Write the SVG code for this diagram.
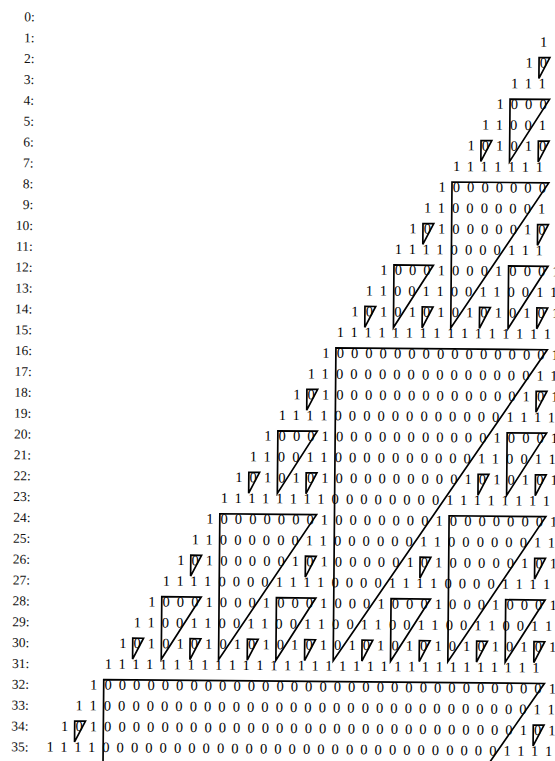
<svg xmlns="http://www.w3.org/2000/svg" width="555" height="761" viewBox="0 0 555 761">
<style>
.lbl{font-family:"Liberation Serif",serif;font-size:13.5px;text-anchor:end;fill:#111}
.row{font-family:"Liberation Serif",serif;font-size:14.5px;letter-spacing:7.08px;fill:#000}
.tri path{fill:none;stroke:#000;stroke-width:1.7;vector-effect:non-scaling-stroke}
</style>
<rect width="555" height="761" fill="#fff"/>
<g transform="rotate(0.5)">
<g id="row-0"><text class="lbl" x="35" y="21.1">0:</text></g>
<g id="row-1"><text class="lbl" x="35" y="41.96">1:</text><text class="row" x="540.37" y="41.96">1</text></g>
<g id="row-2"><text class="lbl" x="35" y="62.82">2:</text><text class="row" x="526.04" y="62.82">10</text></g>
<g id="row-3"><text class="lbl" x="35" y="83.68">3:</text><text class="row" x="511.71" y="83.68">111</text></g>
<g id="row-4"><text class="lbl" x="35" y="104.54">4:</text><text class="row" x="497.38" y="104.54">1000</text></g>
<g id="row-5"><text class="lbl" x="35" y="125.4">5:</text><text class="row" x="483.05" y="125.4">11001</text></g>
<g id="row-6"><text class="lbl" x="35" y="146.26">6:</text><text class="row" x="468.72" y="146.26">101010</text></g>
<g id="row-7"><text class="lbl" x="35" y="167.12">7:</text><text class="row" x="454.39" y="167.12">1111111</text></g>
<g id="row-8"><text class="lbl" x="35" y="187.98">8:</text><text class="row" x="440.06" y="187.98">10000000</text></g>
<g id="row-9"><text class="lbl" x="35" y="208.84">9:</text><text class="row" x="425.73" y="208.84">110000001</text></g>
<g id="row-10"><text class="lbl" x="35" y="229.7">10:</text><text class="row" x="411.4" y="229.7">1010000010</text></g>
<g id="row-11"><text class="lbl" x="35" y="250.56">11:</text><text class="row" x="397.07" y="250.56">11110000111</text></g>
<g id="row-12"><text class="lbl" x="35" y="271.42">12:</text><text class="row" x="382.74" y="271.42">1000100010001</text></g>
<g id="row-13"><text class="lbl" x="35" y="292.28">13:</text><text class="row" x="368.41" y="292.28">11001100110011</text></g>
<g id="row-14"><text class="lbl" x="35" y="313.14">14:</text><text class="row" x="354.08" y="313.14">101010101010101</text></g>
<g id="row-15"><text class="lbl" x="35" y="334">15:</text><text class="row" x="339.75" y="334">1111111111111111</text></g>
<g id="row-16"><text class="lbl" x="35" y="354.86">16:</text><text class="row" x="325.42" y="354.86">10000000000000001</text></g>
<g id="row-17"><text class="lbl" x="35" y="375.72">17:</text><text class="row" x="311.09" y="375.72">110000000000000011</text></g>
<g id="row-18"><text class="lbl" x="35" y="396.58">18:</text><text class="row" x="296.76" y="396.58">1010000000000000101</text></g>
<g id="row-19"><text class="lbl" x="35" y="417.44">19:</text><text class="row" x="282.43" y="417.44">11110000000000001111</text></g>
<g id="row-20"><text class="lbl" x="35" y="438.3">20:</text><text class="row" x="268.1" y="438.3">100010000000000010001</text></g>
<g id="row-21"><text class="lbl" x="35" y="459.16">21:</text><text class="row" x="253.77" y="459.16">1100110000000000110011</text></g>
<g id="row-22"><text class="lbl" x="35" y="480.02">22:</text><text class="row" x="239.44" y="480.02">10101010000000001010101</text></g>
<g id="row-23"><text class="lbl" x="35" y="500.88">23:</text><text class="row" x="225.11" y="500.88">111111110000000011111111</text></g>
<g id="row-24"><text class="lbl" x="35" y="521.74">24:</text><text class="row" x="210.78" y="521.74">1000000010000000100000001</text></g>
<g id="row-25"><text class="lbl" x="35" y="542.6">25:</text><text class="row" x="196.45" y="542.6">11000000110000001100000011</text></g>
<g id="row-26"><text class="lbl" x="35" y="563.46">26:</text><text class="row" x="182.12" y="563.46">101000001010000010100000101</text></g>
<g id="row-27"><text class="lbl" x="35" y="584.32">27:</text><text class="row" x="167.79" y="584.32">1111000011110000111100001111</text></g>
<g id="row-28"><text class="lbl" x="35" y="605.18">28:</text><text class="row" x="153.46" y="605.18">10001000100010001000100010001</text></g>
<g id="row-29"><text class="lbl" x="35" y="626.04">29:</text><text class="row" x="139.13" y="626.04">110011001100110011001100110011</text></g>
<g id="row-30"><text class="lbl" x="35" y="646.9">30:</text><text class="row" x="124.8" y="646.9">1010101010101010101010101010101</text></g>
<g id="row-31"><text class="lbl" x="35" y="667.76">31:</text><text class="row" x="110.47" y="667.76">11111111111111111111111111111111</text></g>
<g id="row-32"><text class="lbl" x="35" y="688.62">32:</text><text class="row" x="96.14" y="688.62">100000000000000000000000000000001</text></g>
<g id="row-33"><text class="lbl" x="35" y="709.48">33:</text><text class="row" x="81.81" y="709.48">1100000000000000000000000000000011</text></g>
<g id="row-34"><text class="lbl" x="35" y="730.34">34:</text><text class="row" x="67.48" y="730.34">10100000000000000000000000000000101</text></g>
<g id="row-35"><text class="lbl" x="35" y="751.2">35:</text><text class="row" x="53.15" y="751.2">111100000000000000000000000000001111</text></g>
<g id="connectors" class="tri" transform="matrix(-14.33 0 0 20.86 558.2 16.4)">
<path d="M0.55 1.75H1.3V2.75Z"/>
<path d="M0.55 5.75H1.3V6.75Z"/><path d="M4.55 5.75H5.3V6.75Z"/>
<path d="M0.55 9.75H1.3V10.75Z"/><path d="M8.55 9.75H9.3V10.75Z"/>
<path d="M0.55 13.75H1.3V14.75Z"/><path d="M4.55 13.75H5.3V14.75Z"/><path d="M8.55 13.75H9.3V14.75Z"/><path d="M12.55 13.75H13.3V14.75Z"/>
<path d="M0.55 17.75H1.3V18.75Z"/><path d="M16.55 17.75H17.3V18.75Z"/>
<path d="M0.55 21.75H1.3V22.75Z"/><path d="M4.55 21.75H5.3V22.75Z"/><path d="M16.55 21.75H17.3V22.75Z"/><path d="M20.55 21.75H21.3V22.75Z"/>
<path d="M0.55 25.75H1.3V26.75Z"/><path d="M8.55 25.75H9.3V26.75Z"/><path d="M16.55 25.75H17.3V26.75Z"/><path d="M24.55 25.75H25.3V26.75Z"/>
<path d="M0.55 29.75H1.3V30.75Z"/><path d="M4.55 29.75H5.3V30.75Z"/><path d="M8.55 29.75H9.3V30.75Z"/><path d="M12.55 29.75H13.3V30.75Z"/><path d="M16.55 29.75H17.3V30.75Z"/><path d="M20.55 29.75H21.3V30.75Z"/><path d="M24.55 29.75H25.3V30.75Z"/><path d="M28.55 29.75H29.3V30.75Z"/>
<path d="M0.55 33.75H1.3V34.75Z"/><path d="M32.55 33.75H33.3V34.75Z"/>
<path d="M0.55 3.75H3.3V6.75Z"/>
<path d="M0.55 11.75H3.3V14.75Z"/><path d="M8.55 11.75H11.3V14.75Z"/>
<path d="M0.55 19.75H3.3V22.75Z"/><path d="M16.55 19.75H19.3V22.75Z"/>
<path d="M0.55 27.75H3.3V30.75Z"/><path d="M8.55 27.75H11.3V30.75Z"/><path d="M16.55 27.75H19.3V30.75Z"/><path d="M24.55 27.75H27.3V30.75Z"/>
<path d="M0.55 7.75H7.3V14.75Z"/>
<path d="M0.55 23.75H7.3V30.75Z"/><path d="M16.55 23.75H23.3V30.75Z"/>
<path d="M0.55 15.75H15.3V30.75Z"/>
<path d="M0.55 31.75H31.3V62.75Z"/>
</g>
</g>
</svg>
